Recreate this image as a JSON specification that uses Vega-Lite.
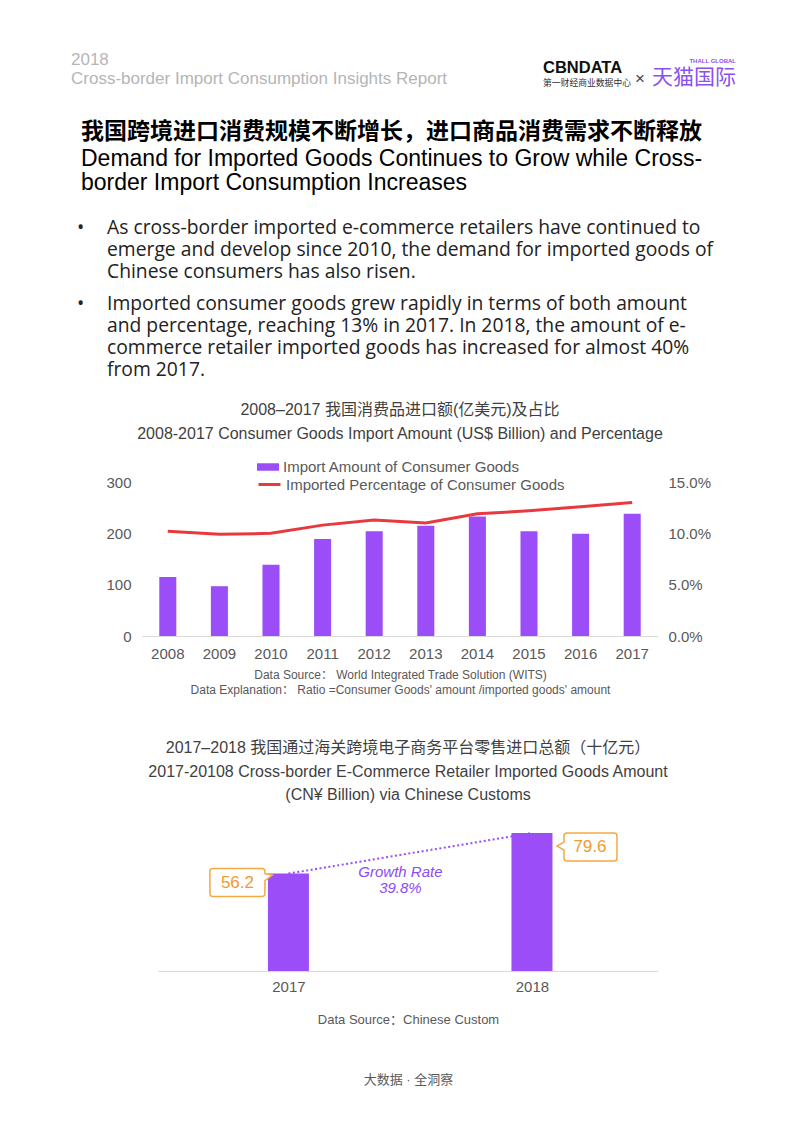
{
  "$schema": "https://vega.github.io/schema/vega-lite/v6.json",
  "background": "white",
  "padding": {"left": 68, "top": 49, "right": 10, "bottom": 10},
  "config": {
    "view": {"stroke": null},
    "font": "Liberation Sans, Noto Sans CJK SC",
    "title": {"offset": 0, "fontWeight": "normal"}
  },
  "datasets": {
    "imports": [
      {"year": "2008", "amount": 115, "pct": 0.102},
      {"year": "2009", "amount": 97, "pct": 0.099},
      {"year": "2010", "amount": 139, "pct": 0.100},
      {"year": "2011", "amount": 189, "pct": 0.108},
      {"year": "2012", "amount": 204, "pct": 0.113},
      {"year": "2013", "amount": 215, "pct": 0.110},
      {"year": "2014", "amount": 233, "pct": 0.119},
      {"year": "2015", "amount": 204, "pct": 0.122},
      {"year": "2016", "amount": 199, "pct": 0.126},
      {"year": "2017", "amount": 238, "pct": 0.130}
    ],
    "retail": [
      {"year": 2017, "value": 56.2},
      {"year": 2018, "value": 79.6}
    ]
  },
  "spacing": 0,
  "vconcat": [
    {
      "spacing": 0,
      "hconcat": [
        {
          "width": 472, "height": 29,
          "data": {"values": [{}]},
          "mark": {"type": "point", "opacity": 0},
          "title": {"text": ["2018", "Cross-border Import Consumption Insights Report"], "anchor": "start", "frame": "group", "fontSize": 17, "lineHeight": 19, "color": "#b5b5b5", "font": "Liberation Sans"}
        },
        {
          "width": 92, "height": 29,
          "data": {"values": [{}]},
          "mark": {"type": "point", "opacity": 0},
          "title": {"text": ["\u00a0", "CBNDATA"], "anchor": "start", "frame": "group", "fontSize": 16.5, "lineHeight": 10, "fontWeight": "bold", "color": "#111111", "font": "Liberation Sans",
            "subtitle": "第一财经商业数据中心", "subtitleFontSize": 8.8, "subtitleColor": "#333333", "subtitleFont": "Noto Sans CJK SC", "subtitlePadding": 3}
        },
        {
          "width": 16, "height": 29,
          "data": {"values": [{}]},
          "mark": {"type": "point", "opacity": 0},
          "title": {"text": ["\u00a0", "×"], "anchor": "start", "frame": "group", "dx": 0, "fontSize": 17, "lineHeight": 12, "color": "#444444"}
        },
        {
          "width": 85, "height": 29,
          "data": {"values": [{}]},
          "mark": {"type": "point", "opacity": 0},
          "title": {"text": "THALL GLOBAL", "anchor": "end", "frame": "group", "fontSize": 6, "fontWeight": "bold", "color": "#8c50f0",
            "subtitle": "天猫国际", "subtitleFontSize": 21, "subtitleColor": "#8c50f0", "subtitleFont": "Noto Sans CJK SC", "subtitlePadding": 3}
        }
      ]
    },
    {
      "width": 640, "height": 20,
      "data": {"values": [{}]},
      "mark": {"type": "point", "opacity": 0},
      "title": {"text": "我国跨境进口消费规模不断增长，进口商品消费需求不断释放", "anchor": "start", "frame": "group", "dx": 10, "fontSize": 23, "fontWeight": "bold", "color": "#000000", "font": "Noto Sans CJK SC",
        "subtitle": ["Demand for Imported Goods Continues to Grow while Cross-", "border Import Consumption Increases"], "subtitleFontSize": 23, "subtitleLineHeight": 24, "subtitleColor": "#000000", "subtitleFont": "Liberation Sans", "subtitlePadding": 4}
    },
    {
      "spacing": 0,
      "hconcat": [
        {
          "width": 36, "height": 18,
          "data": {"values": [{}]},
          "mark": {"type": "point", "opacity": 0},
          "title": {"text": ["•", "\u00a0", "\u00a0"], "anchor": "start", "frame": "group", "dx": 6, "fontSize": 19.3, "lineHeight": 22, "color": "#222222", "font": "Open Sans",
            "subtitle": ["•", "\u00a0", "\u00a0", "\u00a0"], "subtitleFontSize": 19.3, "subtitleLineHeight": 22, "subtitleColor": "#222222", "subtitleFont": "Open Sans", "subtitlePadding": 12}
        },
        {
          "width": 600, "height": 18,
          "data": {"values": [{}]},
          "mark": {"type": "point", "opacity": 0},
          "title": {"text": ["As cross-border imported e-commerce retailers have continued to", "emerge and develop since 2010, the demand for imported goods of", "Chinese consumers has also risen."], "anchor": "start", "frame": "group", "fontSize": 19.3, "lineHeight": 22, "color": "#222222", "font": "Open Sans",
            "subtitle": ["Imported consumer goods grew rapidly in terms of both amount", "and percentage, reaching 13% in 2017. In 2018, the amount of e-", "commerce retailer imported goods has increased for almost 40%", "from 2017."], "subtitleFontSize": 19.3, "subtitleLineHeight": 22, "subtitleColor": "#222222", "subtitleFont": "Open Sans", "subtitlePadding": 12}
        }
      ]
    },
    {
      "spacing": 45,
      "vconcat": [
        {
          "spacing": 0,
          "hconcat": [
            {
              "width": 1, "height": 1,
              "data": {"values": [{}]},
              "mark": {"type": "point", "opacity": 0}
            },
            {
              "width": 516, "height": 154,
              "data": {"name": "imports"},
              "title": {"text": "2008–2017 我国消费品进口额(亿美元)及占比", "subtitle": "2008-2017 Consumer Goods Import Amount (US$ Billion) and Percentage", "anchor": "middle", "frame": "group", "fontSize": 16, "color": "#3f3f3f", "subtitleFontSize": 16, "subtitleColor": "#3f3f3f", "subtitlePadding": 8, "offset": 33},
              "encoding": {
                "x": {"field": "year", "type": "ordinal", "scale": {"paddingInner": 0.67, "paddingOuter": 0.335},
                  "axis": {"labelAngle": 0, "ticks": false, "domainColor": "#d9d9d9", "labelFontSize": 15, "labelColor": "#595959", "labelPadding": 10,
                    "title": ["Data Source： World Integrated Trade Solution (WITS)", "Data Explanation： Ratio =Consumer Goods' amount /imported goods' amount"],
                    "titleFontSize": 12, "titleFontWeight": "normal", "titleColor": "#595959", "titleLineHeight": 15, "titlePadding": 8}}
              },
              "layer": [
                {
                  "mark": {"type": "bar", "color": "#9b4df7"},
                  "encoding": {
                    "y": {"field": "amount", "type": "quantitative", "scale": {"domain": [0, 300]},
                      "axis": {"orient": "left", "values": [0, 100, 200, 300], "grid": false, "ticks": false, "domain": false, "labelFontSize": 15, "labelColor": "#595959", "labelPadding": 11, "title": null, "minExtent": 67, "maxExtent": 67}},
                    "fill": {"datum": "Import Amount of Consumer Goods", "scale": {"range": ["#9b4df7"]},
                      "legend": {"orient": "none", "legendX": 186, "legendY": 364, "title": null, "symbolType": "M-1,-0.34H1V0.34H-1Z", "symbolSize": 484, "symbolStrokeWidth": 0, "labelFontSize": 15, "labelColor": "#595959", "labelOffset": 4, "labelLimit": 400, "padding": 0}}
                  }
                },
                {
                  "mark": {"type": "line", "strokeWidth": 3},
                  "encoding": {
                    "y": {"field": "pct", "type": "quantitative", "scale": {"domain": [0, 0.15]},
                      "axis": {"orient": "right", "values": [0, 0.05, 0.1, 0.15], "format": ".1%", "grid": false, "ticks": false, "domain": false, "labelFontSize": 15, "labelColor": "#595959", "labelPadding": 10, "title": null}},
                    "stroke": {"datum": "Imported Percentage of Consumer Goods", "scale": {"range": ["#e8393e"]},
                      "legend": {"orient": "none", "legendX": 186, "legendY": 380, "title": null, "symbolType": "stroke", "symbolSize": 484, "symbolStrokeWidth": 3, "labelFontSize": 15, "labelColor": "#595959", "labelOffset": 4, "labelLimit": 400, "padding": 0}}
                  }
                }
              ],
              "resolve": {"scale": {"y": "independent"}}
            }
          ]
        },
        {
          "spacing": 0,
          "hconcat": [
            {
              "width": 76, "height": 1,
              "data": {"values": [{}]},
              "mark": {"type": "point", "opacity": 0}
            },
            {
              "width": 500, "height": 156,
              "data": {"name": "retail"},
              "title": {"text": "2017–2018 我国通过海关跨境电子商务平台零售进口总额（十亿元）", "subtitle": ["2017-20108 Cross-border E-Commerce Retailer Imported Goods Amount", "(CN¥ Billion) via Chinese Customs"], "anchor": "middle", "frame": "group", "fontSize": 16, "color": "#3f3f3f", "subtitleFontSize": 16, "subtitleLineHeight": 23, "subtitleColor": "#3f3f3f", "subtitlePadding": 8, "offset": 12},
              "encoding": {
                "x": {"field": "year", "type": "quantitative", "scale": {"domain": [2016.485, 2018.497], "nice": false, "zero": false},
                  "axis": {"values": [2017, 2018], "format": "d", "ticks": false, "grid": false, "domainColor": "#d9d9d9", "labelFontSize": 15, "labelColor": "#595959", "labelPadding": 8,
                    "title": ["Data Source：Chinese Custom", "大数据 · 全洞察"], "titleFontSize": 13, "titleFontWeight": "normal", "titleColor": "#595959", "titleLineHeight": 60, "titlePadding": 19}},
                "y": {"field": "value", "type": "quantitative", "scale": {"domain": [0, 90]}, "axis": null}
              },
              "layer": [
                {"mark": {"type": "bar", "size": 41, "color": "#9b4df7"}},
                {"mark": {"type": "line", "color": "#9b4df7", "strokeDash": [2, 2.5], "strokeWidth": 2}},
                {
                  "transform": [{"filter": "datum.year == 2017"}],
                  "mark": {"type": "point", "shape": "M-7.55,-0.5H-2.65Q-2.35,-0.5,-2.35,-0.2V0L-1.6,0.15L-2.35,0.7V2Q-2.35,2.3,-2.65,2.3H-7.55Q-7.85,2.3,-7.85,2V-0.2Q-7.85,-0.5,-7.55,-0.5Z", "size": 400, "filled": true, "fill": "white", "stroke": "#f5a945", "strokeWidth": 1.5, "opacity": 1}
                },
                {
                  "transform": [{"filter": "datum.year == 2018"}],
                  "mark": {"type": "point", "shape": "M3.5,0H8.2Q8.5,0,8.5,0.3V2.5Q8.5,2.8,8.2,2.8H3.5Q3.2,2.8,3.2,2.5V1.7L2.5,1.3L3.2,0.9V0.3Q3.2,0,3.5,0Z", "size": 400, "filled": true, "fill": "white", "stroke": "#f5a945", "strokeWidth": 1.5, "opacity": 1}
                },
                {
                  "transform": [{"filter": "datum.year == 2017"}],
                  "mark": {"type": "text", "dx": -51, "dy": 9, "fontSize": 17, "color": "#f09a30"},
                  "encoding": {"text": {"field": "value", "type": "quantitative", "format": ".1f"}}
                },
                {
                  "transform": [{"filter": "datum.year == 2018"}],
                  "mark": {"type": "text", "dx": 58, "dy": 14, "fontSize": 17, "color": "#f09a30"},
                  "encoding": {"text": {"field": "value", "type": "quantitative", "format": ".1f"}}
                },
                {
                  "transform": [{"filter": "datum.year == 2017"}],
                  "mark": {"type": "text", "text": ["Growth Rate", "39.8%"], "dx": 112, "dy": -2, "fontStyle": "italic", "fontSize": 15, "lineHeight": 16, "color": "#8b4cf6"}
                }
              ]
            }
          ]
        }
      ]
    }
  ]
}
